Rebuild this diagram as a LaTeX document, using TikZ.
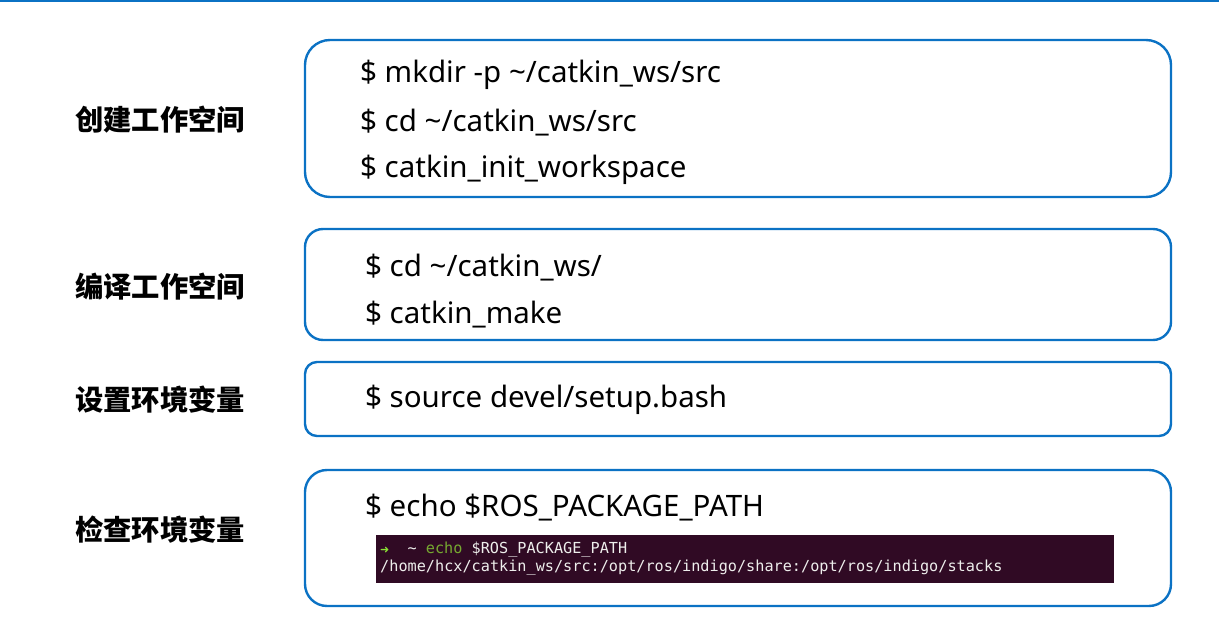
\documentclass[tikz,border=0pt]{standalone}
\usepackage{fontspec}
\setmainfont{Noto Sans}
\newfontfamily\cjk{Noto Sans CJK SC}
\newfontfamily\termfont{DejaVu Sans Mono}
\newfontfamily\arrowfont{DejaVu Sans}
\definecolor{boxblue}{HTML}{0B72C4}
\definecolor{termbg}{HTML}{300A24}
\definecolor{termgreen}{HTML}{8AE234}
\definecolor{termolive}{HTML}{76A830}
\definecolor{termwhite}{HTML}{EEEEEC}
\tikzset{
  cmdbox/.style={draw=boxblue, line width=2.4pt, rounded corners=#1},
  cmdtext/.style={anchor=west, inner sep=0pt, font=\fontsize{29.5}{32}\selectfont},
  steplabel/.style={anchor=west, inner sep=0pt, font=\cjk\bfseries\fontsize{28.3}{31}\selectfont},
  termtext/.style={anchor=west, inner sep=0pt, text=termwhite, font=\termfont\fontsize{15.2}{17}\selectfont}
}

\begin{document}
\begin{tikzpicture}[x=1pt, y=-1pt]
		%%%%% START %%%%%
		\useasboundingbox (0, 0) rectangle (1219, 636);
		
		\draw[boxblue, line width=3pt] (0, 1) -- (1219, 1);
		
		% step labels
		\node[steplabel] (create) at (75, 120) {创建工作空间};
		\node[steplabel] (build) at (75, 287) {编译工作空间};
		\node[steplabel] (setenv) at (75, 400) {设置环境变量};
		\node[steplabel] (check) at (75, 530) {检查环境变量};
		
		% command boxes
		\draw[cmdbox=25pt] (305, 40) rectangle (1171, 197);
		\draw[cmdbox=18pt] (305, 229) rectangle (1171, 340);
		\draw[cmdbox=12pt] (305, 362) rectangle (1171, 436);
		\draw[cmdbox=22pt] (305, 470) rectangle (1171, 606);
		
		\node[cmdtext] (mkdir) at (360, 75) {\$ mkdir -p \textasciitilde/catkin\_ws/src};
		\node[cmdtext] (cdsrc) at (360, 123) {\$ cd \textasciitilde/catkin\_ws/src};
		\node[cmdtext] (initws) at (360, 170) {\$ catkin\_init\_workspace};
		
		\node[cmdtext] (cdws) at (365, 268) {\$ cd \textasciitilde/catkin\_ws/};
		\node[cmdtext] (make) at (365, 315) {\$ catkin\_make};
		
		\node[cmdtext] (source) at (365, 400) {\$ source devel/setup.bash};
		
		\node[cmdtext] (echo) at (365, 508) {\$ echo \$ROS\_PACKAGE\_PATH};
		
		% terminal screenshot
		\fill[termbg] (376, 535) rectangle (1114, 583);
		\node[termtext] (prompt) at (380, 550) {\makebox[27.4pt][l]{\textcolor{termgreen}{\arrowfont\fontsize{11}{11}\selectfont ➜}}\textasciitilde{} \textcolor{termolive}{echo} \$ROS\_PACKAGE\_PATH};
		\node[termtext] (result) at (380, 568) {/home/hcx/catkin\_ws/src:/opt/ros/indigo/share:/opt/ros/indigo/stacks};
		
		%%%%% END %%%%%
\end{tikzpicture}
\end{document}
